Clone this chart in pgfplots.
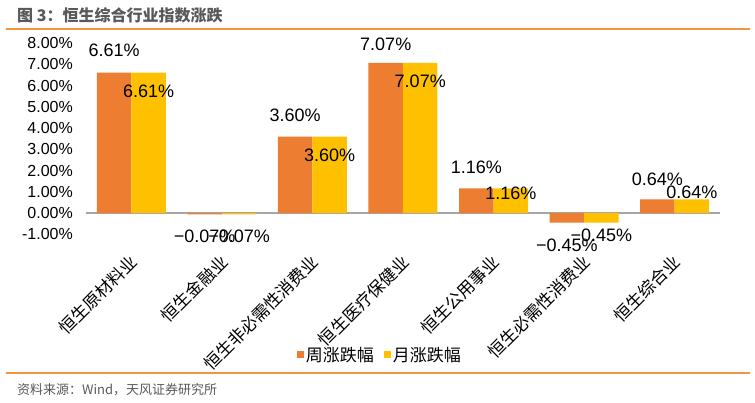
\documentclass[border=0pt]{standalone}
\usepackage{fontspec}
\setmainfont{Liberation Sans}
\newfontfamily\cjk{Noto Sans CJK SC}
\usepackage{pgfplots}
\usepackage{pgfplotstable}
\pgfplotsset{compat=1.18}
\definecolor{weekOrange}{RGB}{237,125,49}
\definecolor{monthGold}{RGB}{255,192,0}
\definecolor{ruleOrange}{RGB}{242,148,64}
\definecolor{titleGray}{RGB}{89,89,89}
\definecolor{zeroGray}{RGB}{166,166,166}

% x = category, y = change in %, dy = label shift in pt, lab = label text
\pgfplotstableread{
x y dy lab
0 6.61 22 6.61
1 -0.07 -21.5 −0.07
2 3.60 21.5 3.60
3 7.07 18 7.07
4 1.16 21 1.16
5 -0.45 -22.5 −0.45
6 0.64 20 0.64
}\weekdata
\pgfplotstableread{
x y dy lab
0 6.61 -18.5 6.61
1 -0.07 -21.5 −0.07
2 3.60 -18.5 3.60
3 7.07 -19 7.07
4 1.16 -5 1.16
5 -0.45 -12.5 −0.45
6 0.64 7 0.64
}\monthdata

\begin{document}
\begin{tikzpicture}
\path[use as bounding box] (0,0) rectangle (755pt,-403pt);
\node[anchor=west,text=titleGray,font=\cjk\bfseries\fontsize{16}{16}\selectfont,inner sep=0pt] at (17pt,-15pt) {图 3：恒生综合行业指数涨跌};
\draw[ruleOrange,line width=1.2pt] (6pt,-29pt) -- (750pt,-29pt);
\draw[ruleOrange,line width=1.2pt] (6pt,-373pt) -- (750pt,-373pt);
\node[anchor=west,text=titleGray,font=\cjk\fontsize{13}{13}\selectfont,inner sep=0pt] at (17pt,-390pt) {资料来源：Wind，天风证券研究所};

\begin{axis}[
  scale only axis,
  width=634pt,height=191.25pt,
  at={(86pt,-234.25pt)},anchor=south west,
  ybar=0pt,bar width=34.5pt,
  xmin=-0.5,xmax=6.5,
  ymin=-1,ymax=8,
  axis lines=left,
  axis line style={draw=none},
  major tick length=0pt,
  xtick={0,...,6},
  xticklabels={恒生原材料业,恒生金融业,恒生非必需性消费业,恒生医疗保健业,恒生公用事业,恒生必需性消费业,恒生综合业},
  xticklabel style={font=\cjk\fontsize{17}{17}\selectfont,xshift=-3pt,yshift=-18.5pt,rotate=45,anchor=north east,inner sep=0pt},
  ytick={-1,0,...,8},
  yticklabel={\pgfmathprintnumber[fixed,fixed zerofill,precision=2]{\tick}\%},
  /pgf/number format/assume math mode=true,
  yticklabel style={font=\fontsize{16}{16}\selectfont,anchor=east,inner sep=0pt,xshift=-13pt},
  extra y ticks={0},
  extra y tick labels={},
  extra y tick style={grid=major,major grid style={draw=zeroGray,line width=1.2pt}},
  nodes near coords={\pgfplotspointmeta\%},
  point meta=explicit symbolic,
  visualization depends on={\thisrow{dy} \as \labdy},
  every node near coord/.append style={anchor=center,font=\fontsize{18}{18}\selectfont,inner sep=0pt,yshift=\labdy pt},
  legend style={at={(0.4637,-0.631)},anchor=center,draw=none,fill=none,
    legend columns=-1,font=\cjk\fontsize{17}{17}\selectfont,
    /tikz/every even column/.append style={column sep=8pt}},
  legend image code/.code={\fill[#1,draw=none] (0pt,-3.5pt) rectangle (7pt,3.5pt);},
  clip=false
]
\addplot[fill=weekOrange,draw=none] table[x=x,y=y,meta=lab] {\weekdata};
\addplot[fill=monthGold,draw=none] table[x=x,y=y,meta=lab] {\monthdata};
\legend{周涨跌幅,月涨跌幅}
\end{axis}
\end{tikzpicture}
\end{document}
